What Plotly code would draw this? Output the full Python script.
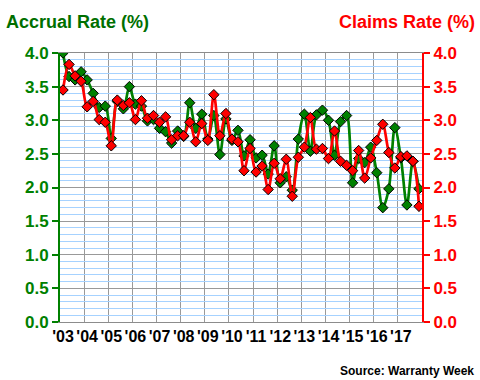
import plotly.graph_objects as go

years = ["'03", "'04", "'05", "'06", "'07", "'08", "'09", "'10", "'11", "'12",
         "'13", "'14", "'15", "'16", "'17"]
quarters = list(range(60))

accrual_rate = [4.00, 3.65, 3.60, 3.72, 3.60, 3.40, 3.19, 3.21, 2.73, 3.28,
                3.17, 3.50, 3.24, 3.21, 2.99, 3.01, 2.88, 2.83, 2.66, 2.84,
                2.76, 3.26, 2.88, 3.09, 2.72, 3.07, 2.49, 3.02, 2.70, 2.85,
                2.47, 2.71, 2.44, 2.48, 2.20, 2.62, 2.07, 2.16, 1.96, 2.72,
                3.09, 2.54, 3.08, 3.15, 3.00, 2.48, 2.98, 3.07, 2.07, 2.43,
                2.37, 2.60, 2.22, 1.70, 1.98, 2.89, 2.44, 1.74, 2.39, 1.98]

claims_rate = [3.45, 3.83, 3.66, 3.58, 3.20, 3.28, 3.01, 2.97, 2.62, 3.30,
               3.22, 3.26, 3.01, 3.29, 3.03, 3.07, 2.97, 3.05, 2.71, 2.77,
               2.77, 2.97, 2.68, 2.95, 2.70, 3.38, 2.77, 3.10, 2.72, 2.68,
               2.25, 2.58, 2.23, 2.32, 1.97, 2.36, 2.13, 2.42, 1.87, 2.45,
               2.60, 3.04, 2.57, 2.58, 2.43, 2.84, 2.39, 2.33, 2.25, 2.55,
               2.14, 2.44, 2.70, 2.94, 2.52, 2.29, 2.46, 2.47, 2.39, 1.72]

y_ticks = [0.0, 0.5, 1.0, 1.5, 2.0, 2.5, 3.0, 3.5, 4.0]

GREEN = "#008000"
DKGREEN = "#006F00"
RED = "#FF0000"
FONT = "Arial, Liberation Sans, sans-serif"

fig = go.Figure()

fig.add_trace(go.Scatter(
    x=quarters, y=claims_rate, yaxis="y2", mode="lines+markers",
    line=dict(color=RED, width=2.7, shape="spline", smoothing=0.9),
    marker=dict(symbol="diamond", size=8, color=RED, line=dict(color="black", width=1)),
    name="Claims Rate", showlegend=False))

fig.add_trace(go.Scatter(
    x=quarters, y=accrual_rate, yaxis="y", mode="lines+markers",
    line=dict(color=GREEN, width=2.7, shape="spline", smoothing=0.9),
    marker=dict(symbol="diamond", size=8, color=GREEN, line=dict(color="black", width=1)),
    name="Accrual Rate", showlegend=False))

year_pos = [4 * k for k in range(len(years))]
boundaries = [4 * k + 3.5 for k in range(len(years) - 1)]

fig.update_layout(
    width=480, height=380,
    margin=dict(l=60, r=58, t=53, b=58),
    paper_bgcolor="white", plot_bgcolor="white",
    font=dict(family=FONT),
    xaxis=dict(
        range=[-0.5, 59.5], tickmode="array", tickvals=year_pos, ticktext=years,
        showgrid=False, zeroline=False, ticks="",
        showline=True, linecolor="#8C8C8C", linewidth=1, mirror=True,
        tickfont=dict(family=FONT, size=16, color="black", weight="bold"),
        minor=dict(tickmode="array", tickvals=boundaries, showgrid=True,
                   gridcolor="#999999", gridwidth=1, ticks=""),
    ),
    yaxis=dict(
        range=[0, 4], tickmode="array", tickvals=y_ticks,
        tickformat=".1f", ticksuffix="%",
        showgrid=True, gridcolor="#999999", gridwidth=1, zeroline=False,
        showline=True, linecolor=GREEN, linewidth=2,
        ticks="outside", ticklen=6, tickwidth=2, tickcolor=GREEN,
        tickfont=dict(family=FONT, size=17, color=GREEN, weight="bold"),
        minor=dict(dtick=0.1, showgrid=True, gridcolor="#A6D2FF", gridwidth=1, ticks=""),
    ),
    yaxis2=dict(
        range=[0, 4], tickmode="array", tickvals=y_ticks,
        tickformat=".1f", ticksuffix="%",
        overlaying="y", side="right", showgrid=False, zeroline=False,
        showline=True, linecolor=RED, linewidth=2,
        ticks="outside", ticklen=6, tickwidth=2, tickcolor=RED,
        tickfont=dict(family=FONT, size=17, color=RED, weight="bold"),
    ),
    yaxis3=dict(
        range=[0, 4], tickmode="array", tickvals=y_ticks, overlaying="y", side="left",
        showgrid=False, zeroline=False, showline=False, showticklabels=False,
        ticks="inside", ticklen=6, tickwidth=2, tickcolor=GREEN,
    ),
    yaxis4=dict(
        range=[0, 4], tickmode="array", tickvals=y_ticks, overlaying="y", side="right",
        showgrid=False, zeroline=False, showline=False, showticklabels=False,
        ticks="inside", ticklen=6, tickwidth=2, tickcolor=RED,
    ),
    annotations=[
        dict(text="Accrual Rate (%)", xref="paper", yref="paper",
             x=-0.155, y=1.116, xanchor="left", yanchor="middle", showarrow=False,
             font=dict(family=FONT, size=18, color=DKGREEN, weight="bold")),
        dict(text="Claims Rate (%)", xref="paper", yref="paper",
             x=1.152, y=1.116, xanchor="right", yanchor="middle", showarrow=False,
             font=dict(family=FONT, size=18, color=RED, weight="bold")),
        dict(text="Source: Warranty Week", xref="paper", yref="paper",
             x=1.149, y=-0.182, xanchor="right", yanchor="middle", showarrow=False,
             font=dict(family=FONT, size=12, color="black", weight="bold")),
    ],
)

fig.write_html("out.html", config={"displayModeBar": False},
               post_script="document.body.style.margin='0';document.body.style.overflow='hidden';")
